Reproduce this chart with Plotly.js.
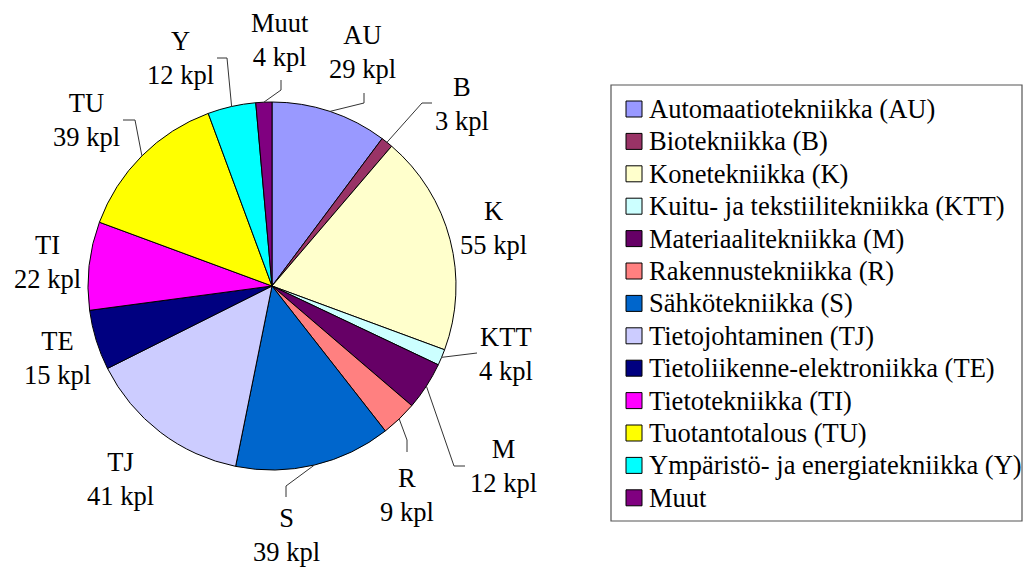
<!DOCTYPE html>
<html><head><meta charset="utf-8">
<script src="https://cdn.plot.ly/plotly-3.0.1.min.js"></script>
<style>html,body{margin:0;padding:0;background:#fff}
#chart text{font-family:serif !important;}</style>
</head><body><div id="chart" style="width:1034px;height:569px"></div>
<script>
// ---- data ----
const codes = ['AU','B','K','KTT','M','R','S','TJ','TE','TI','TU','Y','Muut'];
const names = ['Automaatiotekniikka (AU)','Biotekniikka (B)','Konetekniikka (K)',
  'Kuitu- ja tekstiilitekniikka (KTT)','Materiaalitekniikka (M)','Rakennustekniikka (R)',
  'Sähkötekniikka (S)','Tietojohtaminen (TJ)','Tietoliikenne-elektroniikka (TE)',
  'Tietotekniikka (TI)','Tuotantotalous (TU)','Ympäristö- ja energiatekniikka (Y)','Muut'];
const counts = [29,3,55,4,12,9,39,41,15,22,39,12,4];
const unit = 'kpl';

// ---- styles / layout ----
const colors = ['#9999FF','#993366','#FFFFCC','#CCFFFF','#660066','#FF8080','#0066CC',
  '#CCCCFF','#000080','#FF00FF','#FFFF00','#00FFFF','#800080'];
const FONT = 'serif';
const FS = 26.5;
const W = 1034, H = 569;
const PIE_CX = 272, PIE_CY = 286, PIE_R = 184;
// label block centres (px) and leader [end, elbow] (px)
const labelPos = {AU:[362,52],B:[462,104],K:[493,228],KTT:[506,354],M:[503,466],R:[407,495],
  S:[286,535],TJ:[120,479],TE:[57,358],TI:[47,262],TU:[86,120],Y:[180,58],Muut:[280,40]};
const leaders = {AU:[[364,93],[364,103]],B:[[432,103],[422,103]],KTT:[[477,353],null],
  M:[[465,466],[454,466]],R:[[407,452],[407,440]],S:[[286,497],[286,486]],
  TU:[[123,120],[135,120]],Y:[[217,58],[227,58]],Muut:[[281,80],[281,90]]};

const fx = x => x / W, fy = y => 1 - y / H;
const total = counts.reduce((a,b)=>a+b,0);
let cum = 0;
const mids = counts.map(v => { const m = (cum + v/2) / total * 2 * Math.PI; cum += v; return m; });

const shapes = [], annotations = [];
codes.forEach((c, i) => {
  const p = labelPos[c];
  annotations.push({xref:'paper',yref:'paper',x:fx(p[0]),y:fy(p[1]),xanchor:'center',yanchor:'middle',
    showarrow:false,text:c+'<br>'+counts[i]+' '+unit,font:{family:FONT,size:FS,color:'#000'}});
  const L = leaders[c];
  if (L) {
    const ex = PIE_CX + PIE_R*Math.sin(mids[i]), ey = PIE_CY - PIE_R*Math.cos(mids[i]);
    let path = 'M'+fx(L[0][0])+','+fy(L[0][1]);
    if (L[1]) path += ' L'+fx(L[1][0])+','+fy(L[1][1]);
    path += ' L'+fx(ex)+','+fy(ey);
    shapes.push({type:'path',xref:'paper',yref:'paper',path:path,line:{color:'#333',width:1}});
  }
});

// legend frame + entries
shapes.push({type:'rect',xref:'paper',yref:'paper',x0:fx(611),x1:fx(1022),y0:fy(85),y1:fy(521),
  line:{color:'#555',width:1.2},fillcolor:'rgba(0,0,0,0)'});
names.forEach((n, i) => {
  const top = 101 + 32.4*i;
  shapes.push({type:'rect',xref:'paper',yref:'paper',x0:fx(626),x1:fx(642),y0:fy(top),y1:fy(top+16),
    line:{color:'#000',width:1},fillcolor:colors[i]});
  annotations.push({xref:'paper',yref:'paper',x:fx(647),y:fy(top+8),xanchor:'left',yanchor:'middle',
    showarrow:false,text:n,font:{family:FONT,size:FS,color:'#000'}});
});

const trace = {type:'pie',values:counts,labels:codes,sort:false,direction:'clockwise',rotation:0,
  textinfo:'none',hoverinfo:'label+value',marker:{colors:colors,line:{color:'#000',width:1}},
  domain:{x:[fx(PIE_CX-PIE_R),fx(PIE_CX+PIE_R)],y:[fy(PIE_CY+PIE_R),fy(PIE_CY-PIE_R)]},
  showlegend:false};

Plotly.newPlot('chart',[trace],{width:W,height:H,margin:{l:0,r:0,t:0,b:0},
  font:{family:FONT,size:FS,color:'#000'},
  paper_bgcolor:'#fff',showlegend:false,shapes:shapes,annotations:annotations},
  {staticPlot:true});
</script></body></html>
